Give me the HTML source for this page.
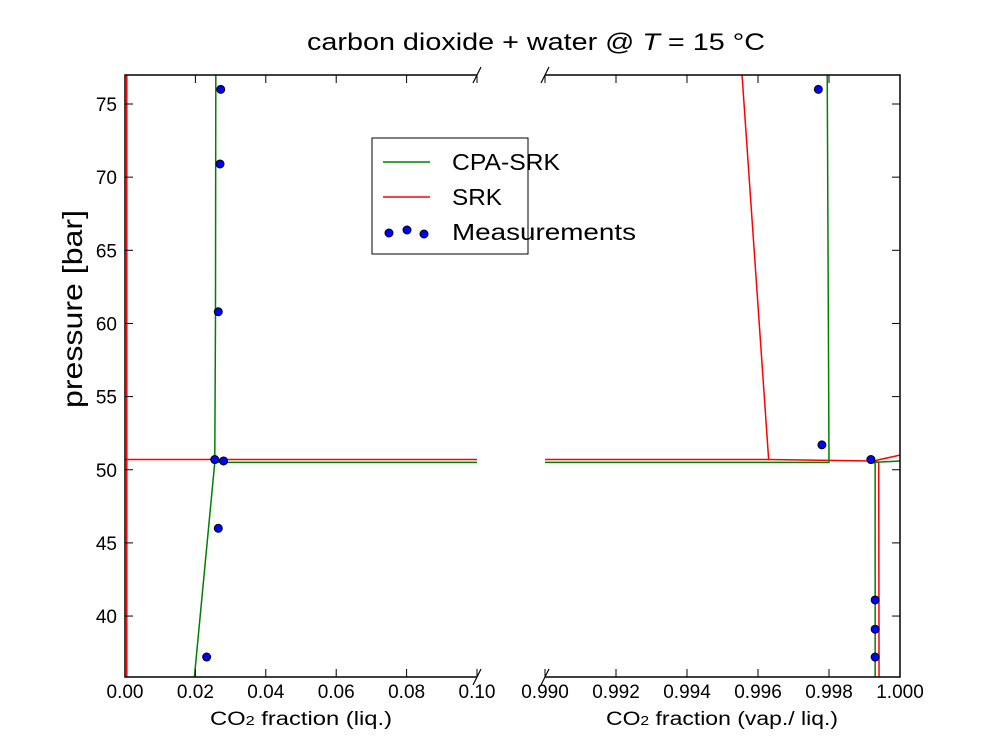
<!DOCTYPE html>
<html><head><meta charset="utf-8"><style>body{margin:0;background:#fff}svg{font-family:"Liberation Sans","DejaVu Sans",sans-serif}</style></head>
<body>
<svg id="c" width="1000" height="750" xmlns="http://www.w3.org/2000/svg"></svg>
<script>
const yTicks=[40,45,50,55,60,65,70,75];
const leftXTicks=[0,0.02,0.04,0.06,0.08,0.10];
const leftXLabels=["0.00","0.02","0.04","0.06","0.08","0.10"];
const rightXTicks=[0.990,0.992,0.994,0.996,0.998,1.000];
const rightXLabels=["0.990","0.992","0.994","0.996","0.998","1.000"];
const liqMeasX=[0.0232,0.0265,0.0255,0.0280,0.0265,0.0270,0.0272];
const liqMeasP=[37.2,46.0,50.7,50.6,60.8,70.9,76.0];
const vapMeasX=[0.99930,0.99930,0.99930,0.99918,0.99780,0.99770];
const vapMeasP=[37.2,39.1,41.1,50.7,51.7,76.0];
const cpaLiqX=[0.0197,0.0255,0.0257,0.0258];
const cpaLiqP=[35.8,50.5,60,77];
const cpaLiqHX=[0.0255,0.1];const cpaLiqHP=[50.5,50.5];
const srkLiqX=[0.0005,0.0005];const srkLiqP=[35.8,77];
const srkLiqHX=[0,0.1];const srkLiqHP=[50.7,50.7];
const cpaVapX=[0.990,0.99800,0.99795];const cpaVapP=[50.5,50.5,77];
const cpaVap2X=[0.99930,0.99930,0.99925,1.000];const cpaVap2P=[35.8,50.4,50.5,50.6];
const srkVapX=[0.990,0.99630,0.99555];const srkVapP=[50.7,50.7,77];
const srkVap2X=[0.99630,0.99925,1.000,0.99925,0.99940,0.99941];const srkVap2P=[50.7,50.6,51.0,50.6,50.5,35.8];
const NS="http://www.w3.org/2000/svg",svg=document.getElementById('c');
const T=75,B=677,L1=125,R1=477,L2=545,R2=900;
const y=p=>104+(75-p)*14.63;
const xl=v=>L1+v/0.1*(R1-L1);
const xr=v=>L2+(v-0.990)/0.010*(R2-L2);
function el(t,a,name,parent){const e=document.createElementNS(NS,t);for(const k in a)e.setAttribute(k,a[k]);


(parent||svg).appendChild(e);return e;}
const defs=el('defs',{},'defs');
const cp1=el('clipPath',{id:'c1'},'clip-left',defs);el('rect',{x:L1,y:T,width:R1-L1,height:B-T},'clip-rect',cp1);
const cp2=el('clipPath',{id:'c2'},'clip-right',defs);el('rect',{x:L2,y:T,width:R2-L2,height:B-T},'clip-rect',cp2);
function line(xs,ps,fx,col,clip,name){el('polyline',{points:xs.map((v,i)=>fx(v)+','+y(ps[i])).join(' '),fill:'none',stroke:col,'stroke-width':1.5,'clip-path':'url(#'+clip+')'},name);}
line(srkLiqX,srkLiqP,xl,'#ff0000','c1','srk-liq-line');
line(srkLiqHX,srkLiqHP,xl,'#ff0000','c1','srk-liq-3phase');
line(cpaLiqX,cpaLiqP,xl,'#008000','c1','cpa-liq-line');
line(cpaLiqHX,cpaLiqHP,xl,'#008000','c1','cpa-liq-3phase');
line(srkVapX,srkVapP,xr,'#ff0000','c2','srk-vap-line');
line(srkVap2X,srkVap2P,xr,'#ff0000','c2','srk-vap-line2');
line(cpaVapX,cpaVapP,xr,'#008000','c2','cpa-vap-line');
line(cpaVap2X,cpaVap2P,xr,'#008000','c2','cpa-vap-line2');
liqMeasX.forEach((v,i)=>el('circle',{cx:xl(v),cy:y(liqMeasP[i]),r:4,fill:'#0000ff',stroke:'#000'},'liq-measurement'));
vapMeasX.forEach((v,i)=>el('circle',{cx:xr(v),cy:y(vapMeasP[i]),r:4,fill:'#0000ff',stroke:'#000'},'vap-measurement'));
const sp={stroke:'#000','stroke-width':1.5,fill:'none'};
el('polyline',Object.assign({points:`${R1},${T} ${L1},${T} ${L1},${B} ${R1},${B}`},sp),'left-spines');
el('polyline',Object.assign({points:`${L2},${T} ${R2},${T} ${R2},${B} ${L2},${B}`},sp),'right-spines');
[[R1,T],[R1,B],[L2,T],[L2,B]].forEach(([a,b])=>el('line',{x1:a-4,y1:b+8,x2:a+4,y2:b-8,stroke:'#000','stroke-width':1.2},'axis-break-mark'));
yTicks.forEach(t=>{const yy=y(t);
el('line',{x1:L1,y1:yy,x2:L1+8,y2:yy,stroke:'#000'},'y-tick');
el('line',{x1:R2,y1:yy,x2:R2-8,y2:yy,stroke:'#000'},'y-tick-right');
const tx=el('text',{x:L1-8,y:yy+7,'text-anchor':'end','font-size':19},'y-tick-label');tx.textContent=t;});
leftXTicks.forEach((t,i)=>{const xx=xl(t);
el('line',{x1:xx,y1:B,x2:xx,y2:B-8,stroke:'#000'},'x-tick-left');el('line',{x1:xx,y1:T,x2:xx,y2:T+8,stroke:'#000'},'x-tick-left-top');
const tx=el('text',{x:xx,y:B+21,'text-anchor':'middle','font-size':19},'x-tick-label-left');tx.textContent=leftXLabels[i];});
rightXTicks.forEach((t,i)=>{const xx=xr(t);
el('line',{x1:xx,y1:B,x2:xx,y2:B-8,stroke:'#000'},'x-tick-right');el('line',{x1:xx,y1:T,x2:xx,y2:T+8,stroke:'#000'},'x-tick-right-top');
const tx=el('text',{x:xx,y:B+21,'text-anchor':'middle','font-size':19},'x-tick-label-right');tx.textContent=rightXLabels[i];});
let t=el('text',{x:307,y:50,'font-size':24,textLength:458,lengthAdjust:'spacingAndGlyphs'},'chart-title');t.innerHTML='carbon dioxide + water @ <tspan font-style="italic">T</tspan> = 15 °C';
t=el('text',{x:82,y:408,'font-size':28,textLength:198,lengthAdjust:'spacingAndGlyphs',transform:'rotate(-90 82 408)'},'y-axis-title');t.textContent='pressure [bar]';
t=el('text',{x:210,y:725,'font-size':19,textLength:182,lengthAdjust:'spacingAndGlyphs'},'x-axis-title-left');t.innerHTML='CO<tspan font-size="13">2</tspan>  fraction (liq.)';
t=el('text',{x:606,y:725,'font-size':19,textLength:232,lengthAdjust:'spacingAndGlyphs'},'x-axis-title-right');t.innerHTML='CO<tspan font-size="13">2</tspan> fraction (vap./ liq.)';
const lg=el('g',{},'legend');
el('rect',{x:372,y:138,width:156,height:116,fill:'#fff',stroke:'#000','stroke-width':1},'legend-box',lg);
el('line',{x1:383,y1:162,x2:430,y2:162,stroke:'#008000','stroke-width':1.5},'legend-cpa-line',lg);
el('line',{x1:383,y1:197,x2:430,y2:197,stroke:'#ff0000','stroke-width':1.5},'legend-srk-line',lg);
[389,407,424].forEach((cx,i)=>el('circle',{cx:cx,cy:[233,230,234][i],r:4,fill:'#0000ff',stroke:'#000'},'legend-marker',lg));
[['CPA-SRK',170,108],['SRK',205,50],['Measurements',240,184]].forEach(([s,yy,w])=>{const e=el('text',{x:452,y:yy,'font-size':23,textLength:w,lengthAdjust:'spacingAndGlyphs'},'legend-label',lg);e.textContent=s;});
</script>
</body></html>
